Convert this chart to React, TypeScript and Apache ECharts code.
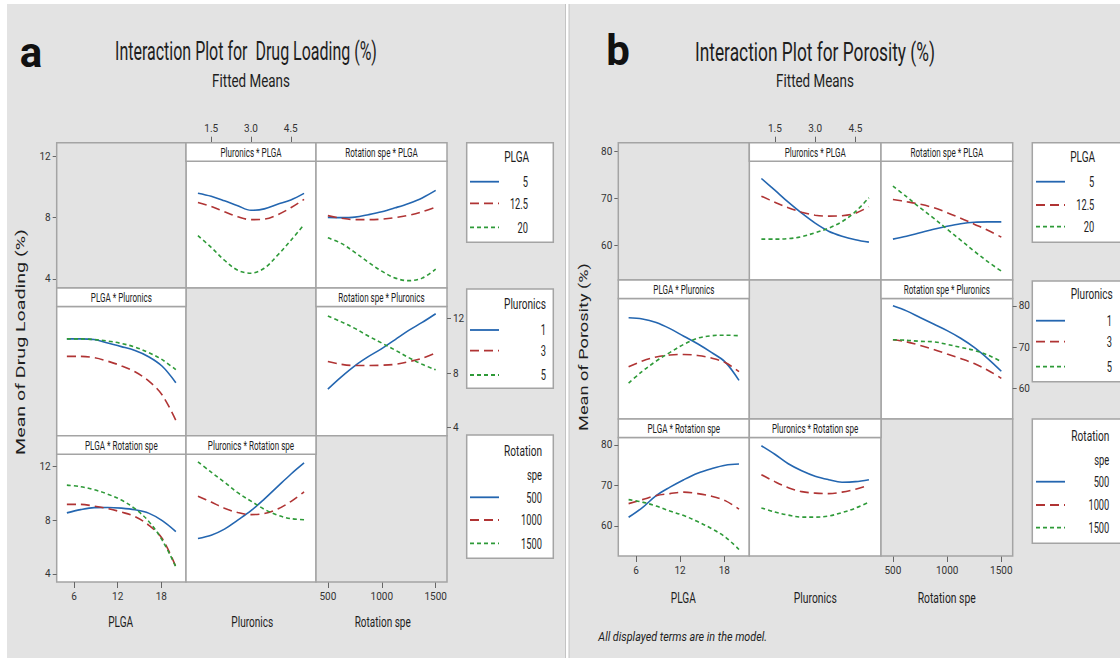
import React, { useEffect, useRef } from 'react';
import * as echarts from 'echarts';

// ---- factor levels / legend labels ----
const PLGA_LEVELS = ['5', '12.5', '20'];
const PLURONICS_LEVELS = ['1', '3', '5'];
const ROTATION_LEVELS = ['500', '1000', '1500'];

// ---- x positions where fitted means were read ----
const PLGA_X = [5, 6.875, 8.75, 10.625, 12.5, 14.375, 16.25, 18.125, 20];
const PLURONICS_X = [1, 1.5, 2, 2.5, 3, 3.5, 4, 4.5, 5];
const ROTATION_X = [500, 625, 750, 875, 1000, 1125, 1250, 1375, 1500];

// ---- tick labels ----
const PLGA_TICKS = [6, 12, 18];
const PLURONICS_TICKS = [1.5, 3, 4.5];
const ROTATION_TICKS = [500, 1000, 1500];
const DL_TICKS = [4, 8, 12];
const PO_TICKS = [60, 70, 80];

// ---- (a) Drug Loading (%) fitted means ----
const DL_PLURONICS_BY_PLGA = [
  [10.5, 10.27, 9.93, 9.56, 9.22, 9.33, 9.67, 10.0, 10.49],
  [9.8, 9.52, 9.11, 8.74, 8.52, 8.56, 8.89, 9.41, 10.04],
  [7.33, 6.44, 5.48, 4.73, 4.51, 4.88, 5.85, 6.96, 8.15],
];
const DL_ROTATION_BY_PLGA = [
  [8.69, 8.67, 8.71, 8.89, 9.11, 9.41, 9.74, 10.15, 10.71],
  [8.82, 8.63, 8.52, 8.52, 8.56, 8.67, 8.85, 9.11, 9.45],
  [7.16, 6.74, 6.07, 5.33, 4.66, 4.14, 3.95, 4.14, 4.81],
];
const DL_PLGA_BY_PLURONICS = [
  [10.52, 10.52, 10.47, 10.21, 9.95, 9.66, 9.21, 8.51, 7.3],
  [9.23, 9.23, 9.14, 8.88, 8.54, 8.1, 7.43, 6.39, 4.53],
  [10.52, 10.52, 10.47, 10.36, 10.18, 9.92, 9.51, 8.99, 8.25],
];
const DL_ROTATION_BY_PLURONICS = [
  [6.83, 7.73, 8.54, 9.21, 9.8, 10.47, 11.14, 11.73, 12.37],
  [8.86, 8.65, 8.56, 8.56, 8.58, 8.65, 8.84, 9.1, 9.49],
  [12.2, 11.77, 11.29, 10.73, 10.21, 9.69, 9.14, 8.65, 8.25],
];
const DL_PLGA_BY_ROTATION = [
  [8.54, 8.78, 8.93, 8.94, 8.89, 8.77, 8.52, 7.96, 7.15],
  [9.17, 9.17, 9.04, 8.86, 8.6, 8.26, 7.63, 6.63, 4.53],
  [10.6, 10.49, 10.26, 9.93, 9.49, 8.85, 7.92, 6.51, 4.53],
];
const DL_PLURONICS_BY_ROTATION = [
  [6.64, 6.88, 7.33, 8.0, 8.7, 9.56, 10.49, 11.41, 12.25],
  [9.78, 9.34, 8.89, 8.56, 8.41, 8.49, 8.82, 9.38, 10.1],
  [12.33, 11.56, 10.82, 10.04, 9.41, 8.81, 8.37, 8.11, 8.03],
];

// ---- (b) Porosity (%) fitted means ----
const PO_PLURONICS_BY_PLGA = [
  [77.55, 74.67, 71.73, 69.02, 66.57, 64.6, 63.37, 62.51, 61.9],
  [73.2, 71.72, 70.37, 69.27, 68.53, 68.29, 68.41, 69.02, 70.62],
  [62.64, 62.64, 62.76, 63.25, 64.23, 65.34, 66.94, 69.39, 72.83],
];
const PO_ROTATION_BY_PLGA = [
  [62.64, 63.37, 64.23, 65.09, 65.83, 66.44, 66.81, 66.89, 66.89],
  [72.39, 71.85, 71.23, 70.37, 69.15, 67.8, 66.32, 64.85, 63.13],
  [75.66, 73.08, 70.37, 67.8, 65.09, 62.39, 59.69, 57.11, 54.77],
];
const PO_PLGA_BY_PLURONICS = [
  [77.13, 76.84, 75.98, 74.5, 72.66, 70.82, 68.73, 66.39, 61.97],
  [65.24, 66.64, 67.62, 68.11, 68.24, 67.99, 67.38, 66.27, 64.06],
  [61.31, 64.18, 66.64, 68.73, 70.69, 72.17, 72.78, 72.91, 72.78],
];
const PO_ROTATION_BY_PLURONICS = [
  [80.03, 78.8, 77.21, 75.61, 74.01, 72.17, 69.96, 67.25, 64.18],
  [71.8, 71.31, 70.45, 69.47, 68.36, 67.25, 66.03, 64.43, 62.46],
  [71.8, 71.68, 71.43, 71.31, 70.69, 69.96, 69.22, 68.11, 66.52],
];
const PO_PLGA_BY_ROTATION = [
  [62.14, 64.53, 67.48, 69.57, 71.41, 73.0, 74.11, 74.97, 75.26],
  [65.51, 66.49, 67.48, 67.97, 68.34, 67.97, 67.35, 66.25, 64.16],
  [66.49, 65.88, 64.9, 63.67, 62.56, 61.09, 59.37, 57.28, 54.21],
];
const PO_PLURONICS_BY_ROTATION = [
  [79.76, 77.67, 75.33, 73.61, 72.27, 71.41, 70.79, 70.92, 71.41],
  [72.64, 70.92, 69.44, 68.46, 68.09, 67.97, 68.34, 69.07, 70.05],
  [64.45, 63.42, 62.68, 62.19, 62.19, 62.44, 63.3, 64.4, 65.88],
];

// ---- styling ----
const BG = '#e3e3e3';
const BORDER = '#a4a4a4';
const LINE_COLORS = ['#2466b0', '#b03434', '#2e9a38'];
const LINE_TYPES: any[] = ['solid', [9, 5], [4, 3]];
const STRIP = 18.5;
const FONT = 'Roboto';
const AXIS_FONT = 'Roboto';
const TXT = '#1e1e1e';

const X_SAMPLES: Record<string, number[]> = { PLGA: PLGA_X, Pluronics: PLURONICS_X, Rotation: ROTATION_X };
const X_RANGE: Record<string, number[]> = { PLGA: [3.6, 21.4], Pluronics: [0.55, 5.45], Rotation: [390, 1605] };

let measureCtx: CanvasRenderingContext2D | null = null;
function measure(text: string, size: number, weight = 'normal', style = 'normal') {
  if (!measureCtx) measureCtx = document.createElement('canvas').getContext('2d');
  measureCtx!.font = `${style} ${weight} ${size}px ${FONT}`;
  return measureCtx!.measureText(text).width || text.length * size * 0.5;
}

function txt(text: string, x: number, y: number, size: number, o: any = {}) {
  const weight = o.weight || 'normal';
  const fstyle = o.italic ? 'italic' : 'normal';
  const sx = o.w ? o.w / measure(text, size, weight, fstyle) : o.sx ?? 1;
  const align = o.align || 'center';
  const va = o.va || 'middle';
  return {
    type: 'text', x, y, scaleX: sx, rotation: o.rot || 0, z: 30, silent: true,
    style: {
      text, fill: o.color || TXT, fontSize: size, fontFamily: FONT, fontWeight: weight, fontStyle: fstyle,
      align, textAlign: align, verticalAlign: va, textVerticalAlign: va,
    },
  };
}

function rect(x: number, y: number, w: number, h: number, fill: string, stroke: string | null, lw = 1.5, z = 10) {
  return { type: 'rect', z, silent: true, shape: { x, y, width: w, height: h }, style: { fill, stroke: stroke || 'none', lineWidth: lw } };
}

type PanelSpec = {
  cols: number[]; rows: number[]; yRange: number[]; yTicks: number[];
  cells: { r: number; c: number; x: string; levels: number; data: number[][]; label: string }[];
};

const PANEL_A: PanelSpec = {
  cols: [56.7, 186, 316, 447], rows: [142.7, 288, 435.7, 582], yRange: [3.4, 12.9], yTicks: DL_TICKS,
  cells: [
    { r: 0, c: 1, x: 'Pluronics', levels: 0, data: DL_PLURONICS_BY_PLGA, label: 'Pluronics * PLGA' },
    { r: 0, c: 2, x: 'Rotation', levels: 0, data: DL_ROTATION_BY_PLGA, label: 'Rotation spe * PLGA' },
    { r: 1, c: 0, x: 'PLGA', levels: 1, data: DL_PLGA_BY_PLURONICS, label: 'PLGA * Pluronics' },
    { r: 1, c: 2, x: 'Rotation', levels: 1, data: DL_ROTATION_BY_PLURONICS, label: 'Rotation spe * Pluronics' },
    { r: 2, c: 0, x: 'PLGA', levels: 2, data: DL_PLGA_BY_ROTATION, label: 'PLGA * Rotation spe' },
    { r: 2, c: 1, x: 'Pluronics', levels: 2, data: DL_PLURONICS_BY_ROTATION, label: 'Pluronics * Rotation spe' },
  ],
};
const PANEL_B: PanelSpec = {
  cols: [618.3, 749.3, 881, 1012.7], rows: [142.7, 280, 419, 556], yRange: [52.6, 81.8], yTicks: PO_TICKS,
  cells: [
    { r: 0, c: 1, x: 'Pluronics', levels: 0, data: PO_PLURONICS_BY_PLGA, label: 'Pluronics * PLGA' },
    { r: 0, c: 2, x: 'Rotation', levels: 0, data: PO_ROTATION_BY_PLGA, label: 'Rotation spe * PLGA' },
    { r: 1, c: 0, x: 'PLGA', levels: 1, data: PO_PLGA_BY_PLURONICS, label: 'PLGA * Pluronics' },
    { r: 1, c: 2, x: 'Rotation', levels: 1, data: PO_ROTATION_BY_PLURONICS, label: 'Rotation spe * Pluronics' },
    { r: 2, c: 0, x: 'PLGA', levels: 2, data: PO_PLGA_BY_ROTATION, label: 'PLGA * Rotation spe' },
    { r: 2, c: 1, x: 'Pluronics', levels: 2, data: PO_PLURONICS_BY_ROTATION, label: 'Pluronics * Rotation spe' },
  ],
};
const LEVEL_NAMES = [PLGA_LEVELS, PLURONICS_LEVELS, ROTATION_LEVELS];

function buildOption() {
  const grid: any[] = [], xAxis: any[] = [], yAxis: any[] = [], series: any[] = [], graphic: any[] = [];
  const labelStyle = { fontFamily: AXIS_FONT, fontSize: 10, color: '#333' };
  const tickStyle = { color: '#666', width: 1 };
  const stripSx = 61 / measure('Pluronics * PLGA', 12.5);

  function addGrid(x: number, y: number, w: number, h: number, xr: number[], yr: number[], ax: any) {
    const gi = grid.length;
    grid.push({ left: x, top: y, width: w, height: h, show: !!ax.bg, backgroundColor: '#ffffff', borderColor: BORDER, borderWidth: 1.5 });
    xAxis.push({
      type: 'value', gridIndex: gi, min: xr[0], max: xr[1], position: ax.xPos || 'bottom', offset: ax.xOffset || 0,
      axisLine: { show: false }, splitLine: { show: false },
      axisTick: ax.xTicks ? { show: true, customValues: ax.xTicks, length: 6, lineStyle: tickStyle } : { show: false },
      axisLabel: ax.xTicks
        ? { show: true, customValues: ax.xTicks, formatter: ax.xFmt || ((v: number) => String(v)), margin: 9, ...labelStyle }
        : { show: false },
    });
    yAxis.push({
      type: 'value', gridIndex: gi, min: yr[0], max: yr[1], position: ax.yPos || 'left',
      axisLine: { show: false }, splitLine: { show: false },
      axisTick: ax.yTicks ? { show: true, customValues: ax.yTicks, length: 4, lineStyle: tickStyle } : { show: false },
      axisLabel: ax.yTicks ? { show: true, customValues: ax.yTicks, formatter: (v: number) => String(v), margin: 6, ...labelStyle } : { show: false },
    });
    return gi;
  }

  function panel(p: PanelSpec) {
    const { cols, rows } = p;
    const cw = (c: number) => cols[c + 1] - cols[c];
    const rh = (r: number) => rows[r + 1] - rows[r];
    // empty diagonal cells
    for (let k = 0; k < 3; k++) graphic.push(rect(cols[k], rows[k], cw(k), rh(k), BG, BORDER, 1.5, 5));
    // axis-only grids
    addGrid(cols[0], rows[0], cw(0), rh(0), X_RANGE.PLGA, p.yRange, { yTicks: p.yTicks });
    addGrid(cols[2], rows[2], cw(2), rh(2), X_RANGE.Rotation, p.yRange, { xTicks: ROTATION_TICKS });
    for (const cell of p.cells) {
      const x = cols[cell.c], y = rows[cell.r] + STRIP, w = cw(cell.c), h = rh(cell.r) - STRIP;
      const ax: any = { bg: true };
      if (cell.r === 0 && cell.c === 1) { ax.xPos = 'top'; ax.xOffset = STRIP; ax.xTicks = PLURONICS_TICKS; ax.xFmt = (v: number) => v.toFixed(1); }
      if (cell.r === 1 && cell.c === 2) { ax.yPos = 'right'; ax.yTicks = p.yTicks; }
      if (cell.r === 2 && cell.c === 0) { ax.yTicks = p.yTicks; ax.xTicks = PLGA_TICKS; }
      const gi = addGrid(x, y, w, h, X_RANGE[cell.x], p.yRange, ax);
      const xs = X_SAMPLES[cell.x];
      cell.data.forEach((vals, i) => {
        series.push({
          type: 'line', name: LEVEL_NAMES[cell.levels][i], xAxisIndex: gi, yAxisIndex: gi,
          data: xs.map((xv, k) => [xv, vals[k]]), symbol: 'none', showSymbol: false, smooth: 0.35, silent: true, z: 3,
          lineStyle: { color: LINE_COLORS[i], width: 1.6, type: LINE_TYPES[i] },
        });
      });
      graphic.push(rect(x, rows[cell.r], w, STRIP, '#ffffff', BORDER, 1.5, 12));
      graphic.push(txt(cell.label, x + w / 2, rows[cell.r] + STRIP / 2 + 0.5, 12.5, { sx: stripSx }));
    }
  }
  panel(PANEL_A);
  panel(PANEL_B);

  // page frame
  graphic.push(rect(0, 0, 1120, 4, '#ffffff', null, 0, 1));
  graphic.push(rect(0, 0, 7, 658, '#ffffff', null, 0, 1));
  graphic.push(rect(565.5, 4, 3.5, 654, '#ffffff', null, 0, 1));
  graphic.push({ type: 'line', z: 2, silent: true, shape: { x1: 565.5, y1: 4, x2: 565.5, y2: 658 }, style: { stroke: '#c4c4c4', lineWidth: 1 } });
  graphic.push({ type: 'line', z: 2, silent: true, shape: { x1: 569, y1: 4, x2: 569, y2: 658 }, style: { stroke: '#c4c4c4', lineWidth: 1 } });

  // titles
  graphic.push(txt('a', 31, 52, 42, { weight: 'bold', color: '#111' }));
  graphic.push(txt('b', 618, 50, 42, { weight: 'bold', color: '#111' }));
  graphic.push(txt('Interaction Plot for  Drug Loading (%)', 246, 52, 25, { w: 262 }));
  graphic.push(txt('Fitted Means', 251, 81, 17.5, { w: 78 }));
  graphic.push(txt('Interaction Plot for Porosity (%)', 815, 52, 25, { w: 240 }));
  graphic.push(txt('Fitted Means', 815, 81, 17.5, { w: 78 }));

  // y titles
  graphic.push(txt('Mean of Drug Loading (%)', 20, 342, 13.5, { w: 226, rot: Math.PI / 2 }));
  graphic.push(txt('Mean of Porosity (%)', 583, 347, 13.5, { w: 168, rot: Math.PI / 2 }));

  // x titles
  graphic.push(txt('PLGA', 120.7, 621.7, 15, { w: 25 }));
  graphic.push(txt('Pluronics', 252.3, 621.7, 15, { w: 42 }));
  graphic.push(txt('Rotation spe', 382.7, 621.7, 15, { w: 56 }));
  graphic.push(txt('PLGA', 683.3, 597.7, 15, { w: 25 }));
  graphic.push(txt('Pluronics', 815.3, 597.7, 15, { w: 43 }));
  graphic.push(txt('Rotation spe', 946.7, 597.7, 15, { w: 58 }));
  graphic.push(txt('All displayed terms are in the model.', 598.3, 636.7, 13, { w: 169, align: 'left', italic: true }));

  // legends
  function legendItems(items: string[], ys: number[], lx: number[], rightX: number) {
    items.forEach((lab, i) => {
      graphic.push({ type: 'line', z: 25, silent: true, shape: { x1: lx[0], y1: ys[i], x2: lx[1], y2: ys[i] },
        style: { stroke: LINE_COLORS[i], lineWidth: 1.8, lineDash: i === 0 ? null : LINE_TYPES[i] } });
      graphic.push(txt(lab, rightX, ys[i], 15, { sx: 0.62, align: 'right' }));
    });
  }
  // panel a legends
  graphic.push(rect(466.7, 142.7, 86.6, 99.6, '#ffffff', BORDER, 1.5, 12));
  graphic.push(txt('PLGA', 516.7, 156.7, 15, { w: 25 }));
  legendItems(PLGA_LEVELS, [181.7, 203.3, 227.3], [470, 499], 528);
  graphic.push(rect(466.7, 289, 86.6, 99.3, '#ffffff', BORDER, 1.5, 12));
  graphic.push(txt('Pluronics', 546, 304, 15, { w: 42, align: 'right' }));
  legendItems(PLURONICS_LEVELS, [330, 350.7, 375], [470, 499], 546);
  graphic.push(rect(466.7, 435, 86.6, 123.3, '#ffffff', BORDER, 1.5, 12));
  graphic.push(txt('Rotation', 542, 450.7, 15, { w: 38, align: 'right' }));
  graphic.push(txt('spe', 542, 475, 15, { w: 15, align: 'right' }));
  legendItems(ROTATION_LEVELS, [497.3, 520, 543.3], [470, 499], 542);
  // panel b legends
  graphic.push(rect(1032.3, 142.7, 95, 99.6, '#ffffff', BORDER, 1.5, 12));
  graphic.push(txt('PLGA', 1082.7, 156.7, 15, { w: 25 }));
  legendItems(PLGA_LEVELS, [181.7, 205, 226.7], [1036, 1065], 1094.3);
  graphic.push(rect(1032.3, 281, 95, 100.7, '#ffffff', BORDER, 1.5, 12));
  graphic.push(txt('Pluronics', 1112.7, 294, 15, { w: 42, align: 'right' }));
  legendItems(PLURONICS_LEVELS, [320.7, 341.7, 366.7], [1036, 1065], 1112);
  graphic.push(rect(1032.3, 419, 95, 124.3, '#ffffff', BORDER, 1.5, 12));
  graphic.push(txt('Rotation', 1109.3, 435.7, 15, { w: 38, align: 'right' }));
  graphic.push(txt('spe', 1109.3, 460, 15, { w: 15, align: 'right' }));
  legendItems(ROTATION_LEVELS, [481.7, 505, 527.7], [1036, 1065], 1109.3);

  return { animation: false, backgroundColor: BG, grid, xAxis, yAxis, series, graphic: { elements: graphic } };
}

export default function App() {
  const ref = useRef<HTMLDivElement>(null);
  useEffect(() => {
    const chart = echarts.init(ref.current!, null, { renderer: 'svg' });
    chart.setOption(buildOption() as any);
    return () => chart.dispose();
  }, []);
  return <div ref={ref} style={{ position: 'absolute', left: 0, top: 0, width: 1120, height: 658 }} />;
}
